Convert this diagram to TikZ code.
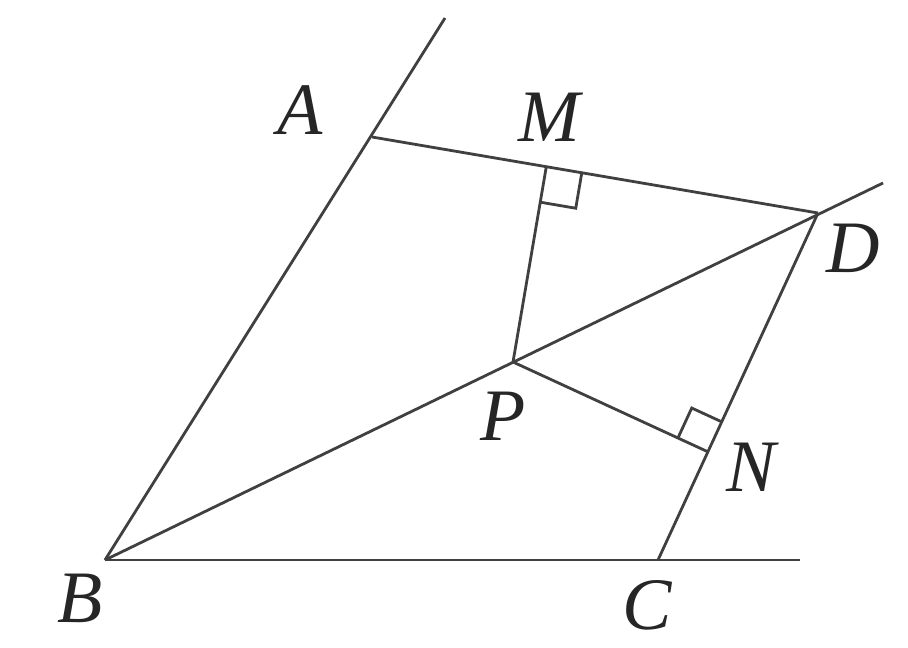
\documentclass[tikz,border=0pt]{standalone}
\usepackage{fontspec}
\setmainfont{Liberation Serif}
\usetikzlibrary{calc}
\begin{document}
\begin{tikzpicture}[x=0.5pt,y=-0.5pt,
  geo/.style={line width=1.4pt, draw=black!75, line join=miter},
  lbl/.style={inner sep=0pt, font=\fontsize{37}{37}\selectfont\itshape, text=black!85}]
\useasboundingbox (0,0) rectangle (908,647);
% points
\coordinate (B) at (105,560);
\coordinate (A) at (372,137);
\coordinate (At) at (445,18);
\coordinate (D) at (818,213);
\coordinate (De) at (883,183);
\coordinate (C) at (658,560);
\coordinate (Ce) at (800,560);
\coordinate (P) at (513,362);
\coordinate (M) at (546.3,166.7);
\coordinate (N) at (707.9,451.8);
% lines
\draw[geo] (B) -- (At);
\draw[geo] (B) -- (De);
\draw[geo] (B) -- (Ce);
\draw[geo] (A) -- (D);
\draw[geo] (C) -- (D);
\draw[geo] (P) -- (M);
\draw[geo] (P) -- (N);
% right angle marks
\coordinate (m1) at ($(M)!18pt!(D)$);
\coordinate (m2) at ($(M)!18pt!(P)$);
\draw[geo] (m1) -- ($(m1)+(m2)-(M)$) -- (m2);
\coordinate (n1) at ($(N)!16.5pt!(D)$);
\coordinate (n2) at ($(N)!16.5pt!(P)$);
\draw[geo] (n1) -- ($(n1)+(n2)-(N)$) -- (n2);
% labels
\node[lbl] (lA) at (300,110) {A};
\node[lbl] (lM) at (549,117) {M};
\node[lbl] (lD) at (853,248) {D};
\node[lbl] (lP) at (503,416) {P};
\node[lbl] (lN) at (751,467) {N};
\node[lbl] (lB) at (80,598) {B};
\node[lbl] (lC) at (647,605) {C};
\end{tikzpicture}
\end{document}
